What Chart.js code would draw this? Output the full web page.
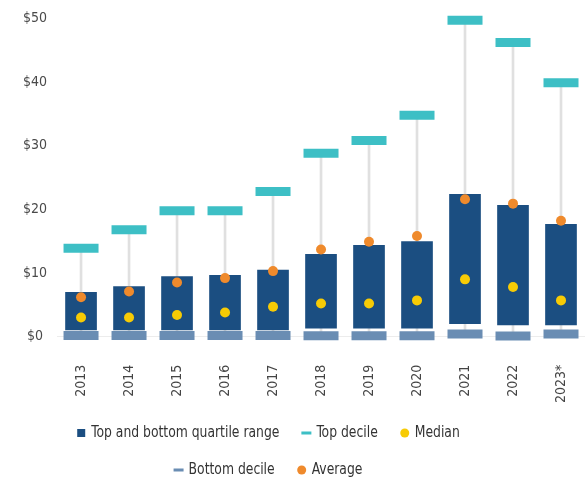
<!DOCTYPE html>
<html><head><meta charset="utf-8">
<script src="https://cdn.jsdelivr.net/npm/chart.js@4"></script>
<style>html,body{margin:0;padding:0;background:#fff}#wrap{width:585px;height:479px}</style>
</head><body><div id="wrap"><canvas id="c" width="585" height="479"></canvas></div>
<script>
const years = ['2013','2014','2015','2016','2017','2018','2019','2020','2021','2022','2023*'];
const quartileLow  = [1.0,1.0,1.0,1.0,1.0,1.3,1.3,1.3,2.0,1.8,1.8];
const quartileHigh = [7.0,7.9,9.5,9.7,10.5,13.0,14.4,15.0,22.4,20.7,17.7];
const topDecile    = [13.9,16.8,19.8,19.8,22.8,28.8,30.8,34.8,49.7,46.2,39.9];
const bottomDecile = [0.2,0.2,0.2,0.2,0.2,0.15,0.15,0.15,0.4,0.1,0.4];
const median       = [3.0,3.0,3.4,3.8,4.7,5.2,5.2,5.7,9.0,7.8,5.7];
const average      = [6.2,7.1,8.5,9.2,10.3,13.7,14.9,15.8,21.6,20.9,18.2];
const yTicks = [0,10,20,30,40,50];

const FONT = '"Liberation Sans Narrow","DejaVu Sans Condensed",Roboto,sans-serif';
const C = {box:'#1b4e81', top:'#3dbfc5', bottom:'#6a8db3', median:'#f7cb05', average:'#ef8a2c', whisker:'#e0e0e0'};

const quartile = quartileLow.map((v,i)=>[v, quartileHigh[i]]);
const whisker = bottomDecile.map((v,i)=>[v, topDecile[i]]);

const legendRows = [
  [{ds:1, kind:'square'}, {ds:2, kind:'dash'}, {ds:4, kind:'dot'}],
  [{ds:3, kind:'dash'}, {ds:5, kind:'dot'}]
];

const customLegend = {
  id:'customLegend',
  afterDraw(chart){
    const ctx = chart.ctx;
    ctx.save();
    ctx.font = '16px ' + FONT;
    ctx.textBaseline = 'middle';
    const sx = 0.86;
    const rowsY = [433, 470];
    const centerX = 268;
    const markerW = 10, gapAfterMarker = 5, itemGap = 22;
    legendRows.forEach((row, r)=>{
      const items = row.map(it=>{
        const ds = chart.data.datasets[it.ds];
        return {...it, label: ds.label, color: ds.legendColor, w: markerW + gapAfterMarker + ctx.measureText(ds.label).width*sx};
      });
      const total = items.reduce((s,it)=>s+it.w,0) + itemGap*(items.length-1);
      let x = centerX - total/2;
      const y = rowsY[r];
      items.forEach(it=>{
        ctx.fillStyle = it.color;
        if (it.kind==='square') ctx.fillRect(x+1, y-4, 8, 8);
        else if (it.kind==='dash') ctx.fillRect(x, y-1.5, markerW, 3);
        else { ctx.beginPath(); ctx.arc(x+markerW/2, y, 4.5, 0, Math.PI*2); ctx.fill(); }
        ctx.fillStyle = '#333';
        ctx.save();
        ctx.translate(x + markerW + gapAfterMarker, y);
        ctx.scale(sx, 1);
        ctx.fillText(it.label, 0, 0);
        ctx.restore();
        x += it.w + itemGap;
      });
    });
    ctx.restore();
  }
};

new Chart(document.getElementById('c'), {
  type:'bar',
  data:{
    labels: years,
    datasets:[
      {type:'bar', label:'Whisker', data: whisker, backgroundColor:C.whisker, barThickness:2, grouped:false, order:6, legendColor:C.whisker},
      {type:'bar', label:'Top and bottom quartile range', data: quartile, backgroundColor:C.box, categoryPercentage:1, barPercentage:0.66, grouped:false, order:5, legendColor:C.box},
      {type:'line', label:'Top decile', data: topDecile, showLine:false, clip:false, pointStyle:'line', pointRadius:17.5, pointHoverRadius:17.5, borderColor:C.top, pointBorderColor:C.top, pointBorderWidth:9, pointHoverBorderWidth:9, order:4, legendColor:C.top},
      {type:'line', label:'Bottom decile', data: bottomDecile, showLine:false, clip:false, pointStyle:'line', pointRadius:17.5, pointHoverRadius:17.5, borderColor:C.bottom, pointBorderColor:C.bottom, pointBorderWidth:9, pointHoverBorderWidth:9, order:3, legendColor:C.bottom},
      {type:'line', label:'Median', data: median, showLine:false, pointStyle:'circle', pointRadius:5, pointBackgroundColor:C.median, pointBorderColor:C.median, pointBorderWidth:0, order:2, legendColor:C.median},
      {type:'line', label:'Average', data: average, showLine:false, pointStyle:'circle', pointRadius:5, pointBackgroundColor:C.average, pointBorderColor:C.average, pointBorderWidth:0, order:1, legendColor:C.average}
    ]
  },
  options:{
    responsive:false, animation:false, devicePixelRatio:1,
    layout:{autoPadding:false, padding:{top:10, left:13, right:0, bottom:73}},
    plugins:{legend:{display:false}, tooltip:{enabled:false}},
    scales:{
      x:{
        offset:true,
        grid:{display:false, drawTicks:true, tickLength:25},
        border:{display:false},
        ticks:{minRotation:90, maxRotation:90, autoSkip:false, padding:3, color:'#444', font:{family:FONT, size:14}}
      },
      y:{
        min:0, max:50,
        afterBuildTicks(scale){ scale.ticks = yTicks.map(v=>({value:v})); },
        grid:{drawTicks:false, color:(c)=> c.tick && c.tick.value===0 ? '#ececec' : 'rgba(0,0,0,0)'},
        border:{display:false},
        ticks:{crossAlign:'center', padding:10, color:'#4a4a4a', font:{family:FONT, size:14}, callback:(v)=>'$'+v}
      }
    }
  },
  plugins:[customLegend]
});
</script>
</body></html>
